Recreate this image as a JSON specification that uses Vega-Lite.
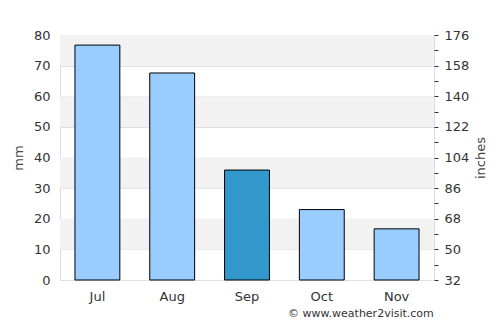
{
  "$schema": "https://vega.github.io/schema/vega-lite/v6.json",
  "width": 374,
  "height": 245,
  "autosize": {"type": "none"},
  "padding": {"left": 60, "top": 35, "right": 66, "bottom": 45},
  "background": "white",
  "title": {"text": "© www.weather2visit.com", "orient": "bottom", "anchor": "end", "fontSize": 11, "fontWeight": "normal", "color": "#333333", "font": "DejaVu Sans", "offset": 5, "dx": -54},
  "config": {
    "view": {"stroke": "#dddddd"},
    "font": "DejaVu Sans",
    "axis": {"labelFont": "DejaVu Sans", "titleFont": "DejaVu Sans", "labelFontSize": 13, "labelColor": "#333333", "titleFontSize": 13, "titleColor": "#444444", "titleFontWeight": "normal"}
  },
  "datasets": {
    "bands": [{"lo": 10, "hi": 20}, {"lo": 30, "hi": 40}, {"lo": 50, "hi": 60}, {"lo": 70, "hi": 80}],
    "rain": [
      {"month": "Jul", "mm": 76.7, "hl": "no"},
      {"month": "Aug", "mm": 67.6, "hl": "no"},
      {"month": "Sep", "mm": 35.9, "hl": "yes"},
      {"month": "Oct", "mm": 23.0, "hl": "no"},
      {"month": "Nov", "mm": 16.7, "hl": "no"}
    ],
    "right": [{"v": 32}, {"v": 176}]
  },
  "layer": [
    {
      "layer": [
        {
          "data": {"name": "bands"},
          "mark": {"type": "rect", "color": "#f2f2f2"},
          "encoding": {
            "y": {"field": "lo", "type": "quantitative", "scale": {"domain": [0, 80], "nice": false}, "axis": {"title": "mm", "values": [0,10,20,30,40,50,60,70,80], "domain": false, "ticks": false, "labelPadding": 10, "grid": true, "gridColor": "#e0e0e0", "titlePadding": 8}},
            "y2": {"field": "hi"}
          }
        },
        {
          "data": {"name": "rain"},
          "mark": {"type": "bar", "stroke": "black", "strokeWidth": 1},
          "encoding": {
            "x": {"field": "month", "type": "nominal", "sort": null, "scale": {"paddingInner": 0.4, "paddingOuter": 0.2}, "axis": {"title": null, "labelAngle": 0, "ticks": false, "domain": false, "labelPadding": 10}},
            "y": {"field": "mm", "type": "quantitative", "axis": {"title": "mm", "values": [0,10,20,30,40,50,60,70,80], "domain": false, "ticks": false, "labelPadding": 10, "grid": true, "gridColor": "#e0e0e0", "titlePadding": 8}},
            "color": {"field": "hl", "type": "nominal", "scale": {"domain": ["no", "yes"], "range": ["#99ccff", "#3399cc"]}, "legend": null}
          }
        }
      ]
    },
    {
      "data": {"name": "right"},
      "mark": {"type": "point", "opacity": 0},
      "encoding": {
        "y": {"field": "v", "type": "quantitative", "scale": {"domain": [32, 176], "nice": false, "zero": false}, "axis": {"orient": "right", "title": "inches", "titleAngle": 270, "values": [32,41,50,59,68,77,86,95,104,113,122,131,140,149,158,167,176], "labelExpr": "(datum.value - 32) % 18 == 0 ? datum.label : ''", "grid": false, "domain": false, "tickSize": 4, "tickColor": "#333333", "labelPadding": 6, "titlePadding": 19}}
      }
    }
  ],
  "resolve": {"scale": {"y": "independent"}}
}
